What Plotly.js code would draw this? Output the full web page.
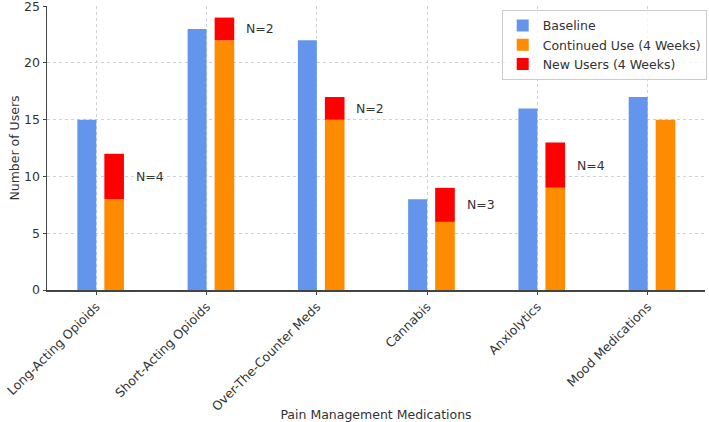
<!DOCTYPE html>
<html><head><meta charset="utf-8">
<script src="https://cdn.plot.ly/plotly-3.0.1.min.js"></script>
<style>html,body{margin:0;padding:0;background:#fff}#chart{width:709px;height:422px}</style>
</head><body><div id="chart"></div>
<script>
const categories = ["Long-Acting Opioids","Short-Acting Opioids","Over-The-Counter Meds","Cannabis","Anxiolytics","Mood Medications"];
const baseline = [15, 23, 22, 8, 16, 17];
const continued = [8, 22, 15, 6, 9, 15];
const newUsers = [4, 2, 2, 3, 4, 0];

const idx = categories.map((c,i)=>i);
const font = {family:"DejaVu Sans, sans-serif", size:12.5, color:"#333"};

const traces = [
  {type:"bar", name:"Baseline", x:idx, y:baseline, offset:-0.172, width:0.172,
   marker:{color:"#6495ED"}, hoverinfo:"y"},
  {type:"bar", name:"Continued Use (4 Weeks)", x:idx, y:continued, offset:0.073, width:0.178,
   marker:{color:"#FF8C00"}, hoverinfo:"y"},
  {type:"bar", name:"New Users (4 Weeks)", x:idx, y:newUsers, base:continued, offset:0.073, width:0.178,
   marker:{color:"#FF0000"}, hoverinfo:"y"}
];

const annotations = [];
idx.forEach(i=>{
  if(newUsers[i] > 0){
    annotations.push({x:i+0.34, y:continued[i]+newUsers[i]/2, xref:"x", yref:"y",
      text:"N="+newUsers[i], showarrow:false, xanchor:"left", yanchor:"middle", font:font});
  }
});

const layout = {
  width:709, height:422,
  margin:{l:47, r:3, t:6, b:132},
  barmode:"overlay",
  paper_bgcolor:"#fff", plot_bgcolor:"#fff",
  font:font,
  showlegend:true,
  legend:{x:0.69, y:0.986, xanchor:"left", yanchor:"top", bgcolor:"rgba(255,255,255,0.8)",
    bordercolor:"#ccc", borderwidth:1, font:font, traceorder:"normal"},
  xaxis:{range:[-0.447, 5.52], tickmode:"array", tickvals:idx, ticktext:categories,
    tickangle:-45, showgrid:true, gridcolor:"#d0d0d0", griddash:"dot", gridwidth:1,
    showline:true, linecolor:"#444", linewidth:1.5, ticks:"outside", ticklen:3, tickcolor:"#444",
    zeroline:false, tickfont:font, automargin:false,
    title:{text:"Pain Management Medications", font:font, standoff:8}},
  yaxis:{range:[0,25.02], tickmode:"array", tickvals:[0,5,10,15,20,25], ticktext:["0","5","10","15","20","25"],
    showgrid:true, gridcolor:"#d0d0d0", griddash:"dot", gridwidth:1,
    showline:true, linecolor:"#444", linewidth:1.5, ticks:"outside", ticklen:3, tickcolor:"#444",
    zeroline:false, tickfont:font, automargin:false, ticklabeloverflow:"allow",
    title:{text:"Number of Users", font:font, standoff:1}},
  annotations:annotations
};
Plotly.newPlot("chart", traces, layout, {displayModeBar:false, staticPlot:true});
</script></body></html>
